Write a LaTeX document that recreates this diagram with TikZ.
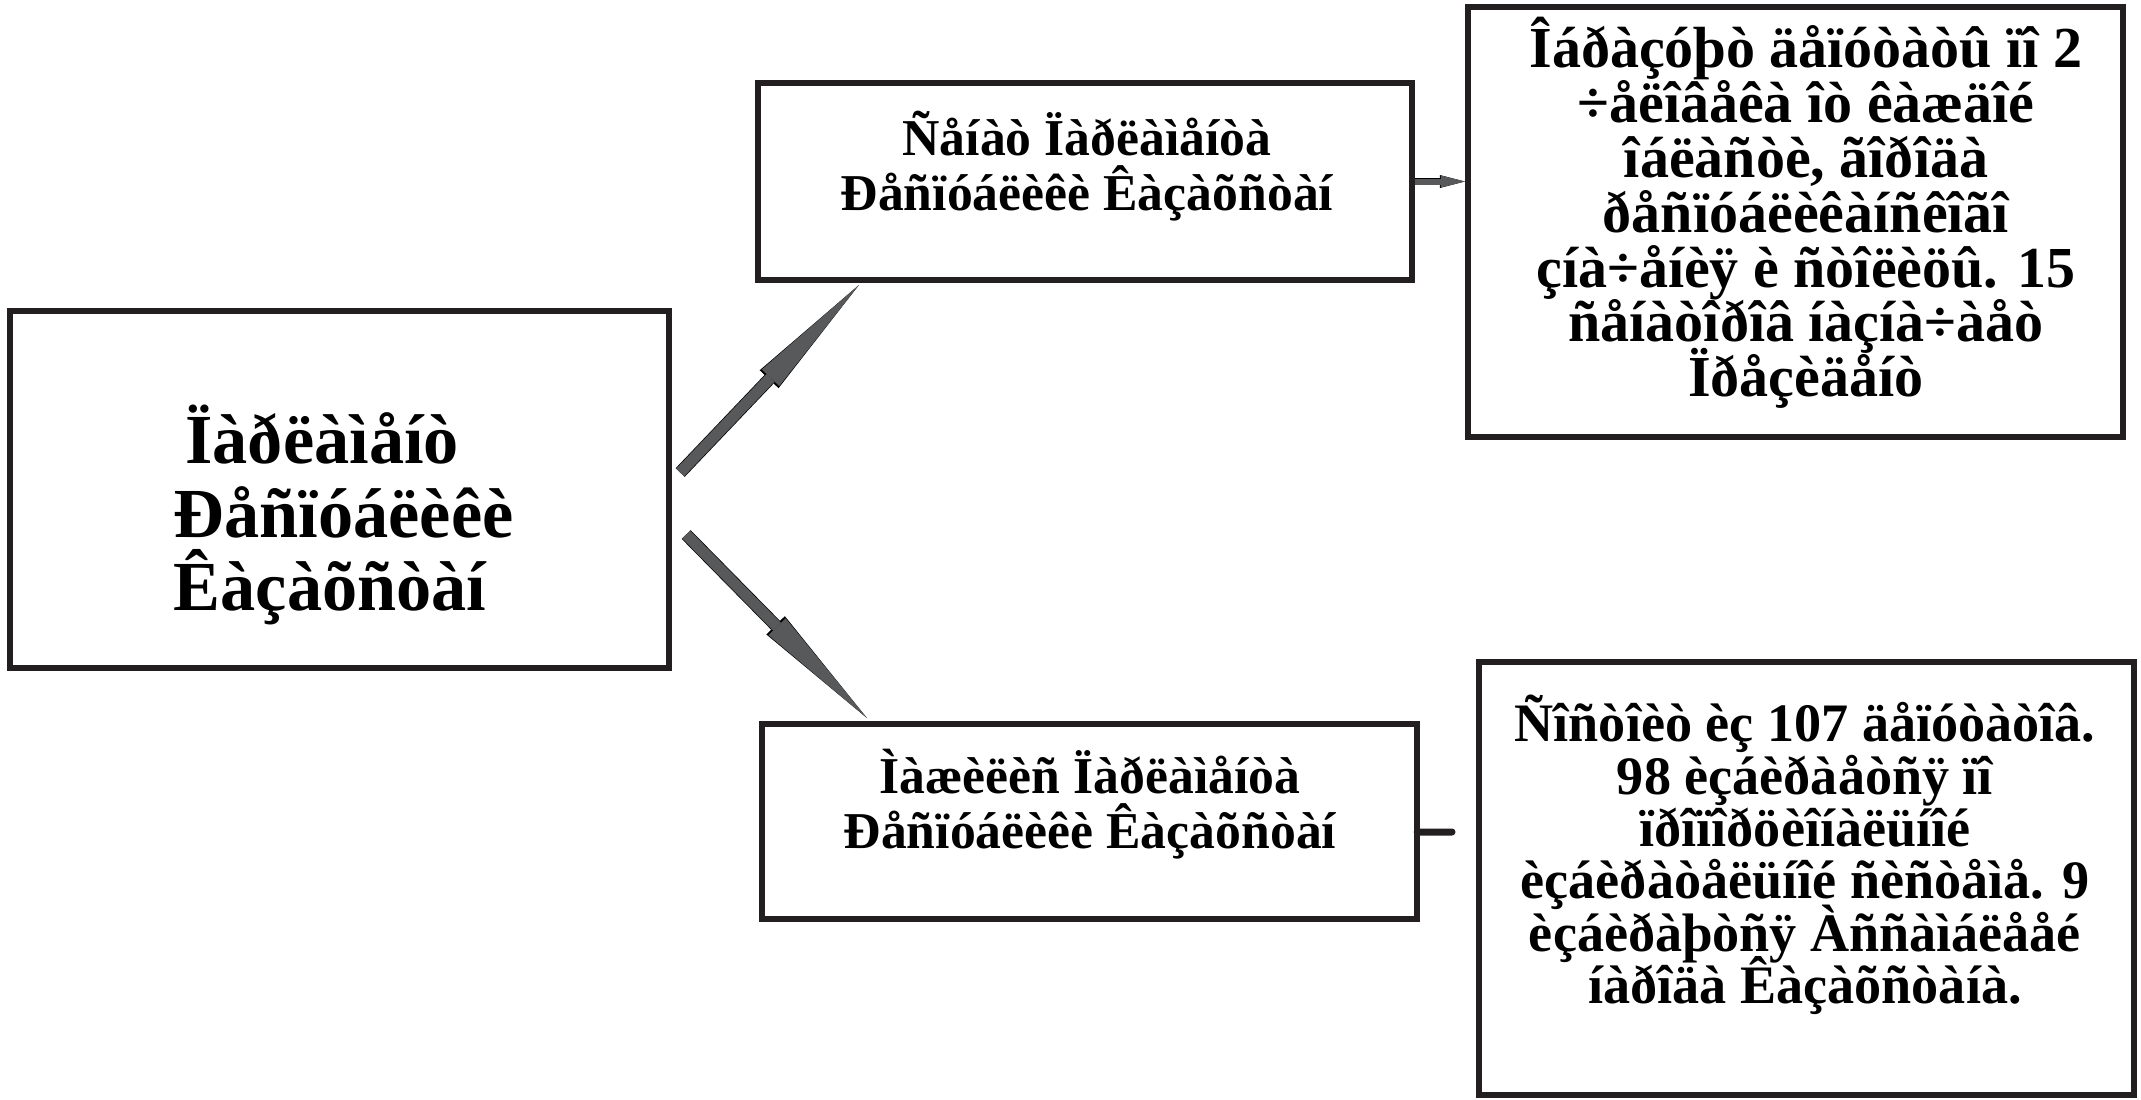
\documentclass[tikz,border=0pt]{standalone}
\usepackage{fontspec}
\setmainfont{Liberation Serif}
\lineskiplimit=-20pt
\usetikzlibrary{arrows.meta}
\definecolor{boxline}{HTML}{231F20}
\definecolor{arrowgrey}{HTML}{58595B}
\tikzset{
  box/.style={draw=boxline, line width=0.06cm, inner sep=0pt},
  txt/.style={align=center, inner sep=0pt, font=\bfseries\fontsize{14.7}{15.5}\selectfont},
  infotxt/.style={align=center, inner sep=0pt, font=\bfseries\fontsize{16.5}{15.6}\selectfont},
  bigtxt/.style={align=left, inner sep=0pt, font=\bfseries\fontsize{20}{21}\selectfont},
  bigarrow/.style={draw=arrowgrey, line width=0.11cm,
    -{Triangle[length=1.28cm,width=0.24cm,line width=0pt]},
    preaction={draw=black, line width=0.125cm, -{Triangle[length=1.30cm,width=0.26cm,line width=0pt]}}},
  smallarrow/.style={draw=arrowgrey, line width=0.06cm,
    -{Triangle[length=0.24cm,width=0.12cm,line width=0pt]},
    preaction={draw=black, line width=0.07cm, -{Triangle[length=0.25cm,width=0.13cm,line width=0pt]}}},
  stub/.style={draw=boxline, line width=0.07cm, line cap=round}
}
\begin{document}
\begin{tikzpicture}[x=0.01cm, y=-0.01cm]
\useasboundingbox (0,0) rectangle (2141,1099);
\node[box, minimum width=6.59cm, minimum height=3.57cm] (parl) at (339.5,489.5) {};
\node[box, minimum width=6.54cm, minimum height=1.97cm] (senat) at (1085,181.5) {};
\node[box, minimum width=6.55cm, minimum height=4.30cm] (senatinfo) at (1795.5,222) {};
\node[box, minimum width=6.55cm, minimum height=1.95cm] (mazh) at (1089.5,821.5) {};
\node[box, minimum width=6.55cm, minimum height=4.33cm] (mazhinfo) at (1806.5,878.5) {};
\node[bigtxt, anchor=west] (parl-txt) at (173,515) {\,Ïàðëàìåíò\\Ðåñïóáëèêè\\Êàçàõñòàí};
\node[txt] (senat-txt) at (1087,166) {Ñåíàò Ïàðëàìåíòà\\Ðåñïóáëèêè Êàçàõñòàí};
\node[infotxt] (senatinfo-txt) at (1806,213) {Îáðàçóþò äåïóòàòû ïî 2\\÷åëîâåêà îò êàæäîé\\îáëàñòè, ãîðîäà\\ðåñïóáëèêàíñêîãî\\çíà÷åíèÿ è ñòîëèöû. 15\\ñåíàòîðîâ íàçíà÷àåò\\Ïðåçèäåíò};
\node[txt] (mazh-txt) at (1090,804) {Ìàæèëèñ Ïàðëàìåíòà\\Ðåñïóáëèêè Êàçàõñòàí};
\node[txt, font=\bfseries\fontsize{15.4}{14.9}\selectfont] (mazhinfo-txt) at (1805,855) {Ñîñòîèò èç 107 äåïóòàòîâ.\\98 èçáèðàåòñÿ ïî\\ïðîïîðöèîíàëüíîé\\èçáèðàòåëüíîé ñèñòåìå. 9\\èçáèðàþòñÿ Àññàìáëååé\\íàðîäà Êàçàõñòàíà.};
\draw[bigarrow] ([shift={(0.08cm,0.17cm)}]parl.east) -- ([shift={(1.04cm,-0.02cm)}]senat.south west);
\draw[bigarrow] ([shift={(0.14cm,-0.45cm)}]parl.east) -- ([shift={(1.08cm,0.03cm)}]mazh.north west);
\draw[smallarrow] (senat.east) -- (senat.east -| senatinfo.west);
\coordinate (stubend) at (1452,832);
\draw[stub] ([shift={(-0.03cm,-0.105cm)}]mazh.east) -- (stubend);
\end{tikzpicture}
\end{document}
